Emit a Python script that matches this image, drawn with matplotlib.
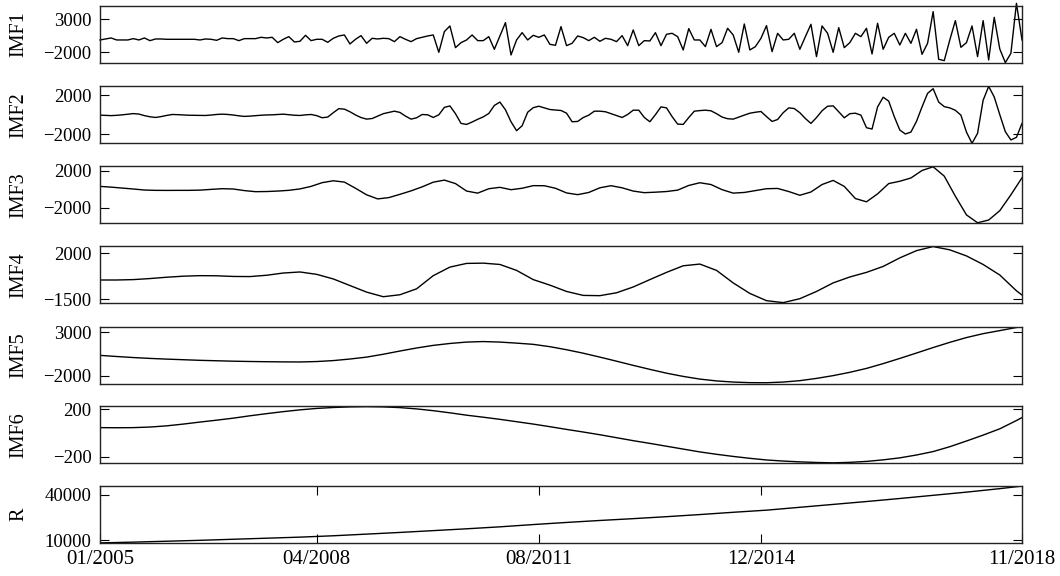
import numpy as np
import matplotlib
matplotlib.use('Agg')
import matplotlib.pyplot as plt

# emd decomposition of a monthly series, 01/2005 .. 11/2018 (167 months)
# values

imf1 = [-131, 20, 172, -131, -131, -131, 71, -131, 172, -232,
        20, 20, -30, -30, -30, -30, -30, -30, -131, 20,
        -30, -182, 172, 71, 71, -232, 71, 71, 71, 273,
        172, 273, -535, -30, 374, -434, -333, 576, -232, -30,
        -30, -485, 122, 475, 627, -737, -30, 526, -636, 122,
        20, 122, 71, -384, 374, -30, -384, 71, 273, 475,
        627, -2000, 1132, 1990, -1293, -535, -131, 627, -232, -232,
        374, -1545, 475, 2495, -2404, -131, 980, -131, 576, 273,
        627, -788, -939, 1889, -990, -636, 475, 222, -232, 273,
        -333, 122, -30, -384, 526, -990, 1384, -990, -232, -283,
        980, -990, 728, 879, 374, -1646, 1586, -131, -131, -1141,
        1485, -1141, -535, 1637, 627, -2000, 2293, -1646, -1141, 122,
        2040, -1899, 879, -131, -30, 879, -1545, 374, 2243, -2656,
        1990, 879, -2000, 1738, -1293, -535, 879, 374, 1637, -2252,
        2394, -1545, 273, 879, -889, 879, -636, 1485, -2303, -636,
        4162, -3060, -3262, -131, 2798, -1242, -535, 1990, -2656, 2798,
        -3161, 3303, -1495, -3565, -2151, 5424, -131]

imf2 = [-51, -80, -100, -70, -20, 50, 110, 60, -100, -220,
        -290, -200, -80, 17, 0, -30, -60, -70, -80, -85,
        -40, 20, 51, 20, -40, -120, -180, -150, -100, -60,
        -30, -17, 20, 51, 0, -60, -85, -20, 17, -100,
        -320, -250, 200, 620, 570, 300, -30, -300, -460, -400,
        -150, 100, 230, 359, 230, -150, -462, -325, 17, -17,
        -290, -17, 750, 900, 100, -906, -1009, -760, -480, -230,
        120, 950, 1300, 500, -735, -1658, -1150, 250, 720, 872,
        700, 530, 480, 430, 150, -735, -700, -300, -51, 359,
        359, 300, 100, -100, -290, 17, 461, 461, -290, -735,
        0, 803, 700, -200, -974, -1009, -300, 359, 420, 461,
        400, 100, -250, -420, -462, -250, -50, 150, 250, 325,
        -200, -701, -500, 200, 701, 632, 200, -400, -906, -300,
        400, 872, 906, 300, -325, 100, 150, -51, -1350, -1487,
        800, 1800, 1400, -200, -1590, -2000, -1800, -700, 800, 2200,
        2684, 1300, 830, 700, 450, -51, -1800, -2958, -1932, 1487,
        2923, 1829, 0, -1761, -2616, -2342, -906]

# smoother components, read every few months
imf3_month = list(range(0, 167, 2))
imf3 = [300, 220, 120, 20, -90, -124, -130, -125, -124, -100,
        -20, 53, 20, -150, -266, -250, -200, -120, 30, 300,
        700, 900, 760, 100, -600, -1040, -900, -550, -180, 250,
        750, 973, 600, -200, -420, 50, 200, -53, 100, 380,
        370, 100, -400, -584, -350, 150, 372, 150, -200, -372,
        -320, -250, -100, 400, 690, 500, -50, -420, -350, -150,
        50, 80, -250, -650, -300, 500, 938, 300, -1000, -1350,
        -500, 600, 850, 1200, 2000, 2400, 1400, -750, -2750, -3593,
        -3300, -2300, -600, 1221]

mid_month = list(range(0, 166, 3)) + [166]
imf4 = [-30, -30, 0, 80, 180, 260, 300, 290, 240, 230,
        330, 500, 580, 400, 50, -450, -950, -1300, -1150, -700,
        300, 950, 1230, 1250, 1150, 700, 0, -420, -900, -1200,
        -1220, -1000, -560, 0, 550, 1050, 1180, 700, -250, -1050,
        -1600, -1750, -1450, -900, -250, 200, 550, 1000, 1650, 2200,
        2510, 2260, 1800, 1150, 350, -850, -1171]
imf5 = [350, 220, 100, 0, -80, -150, -220, -270, -320, -355,
        -380, -400, -410, -360, -250, -70, 150, 480, 850, 1200,
        1500, 1720, 1880, 1940, 1880, 1760, 1620, 1350, 1000, 600,
        150, -320, -800, -1260, -1700, -2070, -2380, -2590, -2720, -2790,
        -2800, -2720, -2560, -2300, -1980, -1600, -1150, -600, 0, 620,
        1250, 1850, 2400, 2850, 3200, 3560, 3648]
imf6 = [45, 44, 45, 50, 60, 75, 92, 108, 125, 145,
        163, 180, 195, 207, 215, 220, 222, 220, 214, 203,
        188, 170, 150, 133, 115, 95, 75, 53, 30, 8,
        -15, -40, -65, -88, -112, -136, -160, -180, -198, -214,
        -228, -237, -244, -249, -252, -248, -240, -227, -210, -186,
        -157, -116, -68, -18, 35, 105, 130]

slow_month = list(range(0, 163, 6)) + [166]
resid = [8100, 8600, 9200, 9800, 10500, 11200, 11900, 12800, 13900, 15000,
         16200, 17400, 18700, 20200, 21600, 22900, 24100, 25400, 26800, 28300,
         29700, 31600, 33500, 35400, 37400, 39500, 41600, 43900, 45600]

names = ['IMF1', 'IMF2', 'IMF3', 'IMF4', 'IMF5', 'IMF6', 'R']
yticks = [[-2000, 3000], [-2000, 2000], [-2000, 2000], [-1500, 2000],
          [-2000, 3000], [-200, 200], [10000, 40000]]
ylims = [(-3620, 5015), (-2960, 2930), (-3650, 2450), (-1800, 2530),
         (-2910, 3650), (-256, 225), (8030, 45650)]

xtick_pos = [0, 39, 79, 119, 166]
xtick_labels = ['01/2005', '04/2008', '08/2011', '12/2014', '11/2018']

months = np.arange(len(imf1))
series = [(months, imf1), (months, imf2), (imf3_month, imf3),
          (mid_month, imf4), (mid_month, imf5), (mid_month, imf6),
          (slow_month, resid)]

plt.rcParams['font.family'] = ['Liberation Serif', 'DejaVu Serif']
plt.rcParams['font.size'] = 13.5

fig = plt.figure(figsize=(10.6, 5.76), dpi=100)
W, H = 1060.0, 576.0
left, width, height = 100 / W, 922 / W, 57 / H
bottoms_px = [63, 143.3, 223.3, 303.3, 383.7, 463.3, 543]

for i, (name, (x, y)) in enumerate(zip(names, series)):
    ax = fig.add_axes([left, 1 - bottoms_px[i] / H, width, height])
    ax.plot(x, y, color='black', lw=1.0, clip_on=(i != 0))
    ax.set_xlim(0, 166)
    ax.set_ylim(*ylims[i])
    ax.set_yticks(yticks[i])
    ax.tick_params(axis='y', direction='in', length=6.5, width=0.8,
                   left=True, right=True, pad=6)
    if name == 'R':
        ax.set_xticks(xtick_pos)
        ax.set_xticklabels(xtick_labels, fontsize=15)
        ax.tick_params(axis='x', direction='in', length=6.5, width=0.8,
                       top=True, bottom=True, pad=5)
    else:
        ax.set_xticks([])
    for s in ax.spines.values():
        s.set_linewidth(1.0)
        s.set_color('#222222')
    ax.set_ylabel(name, fontsize=14.5)
    ax.yaxis.set_label_coords(-0.078, 0.5)

fig.savefig('out.png', dpi=100)
